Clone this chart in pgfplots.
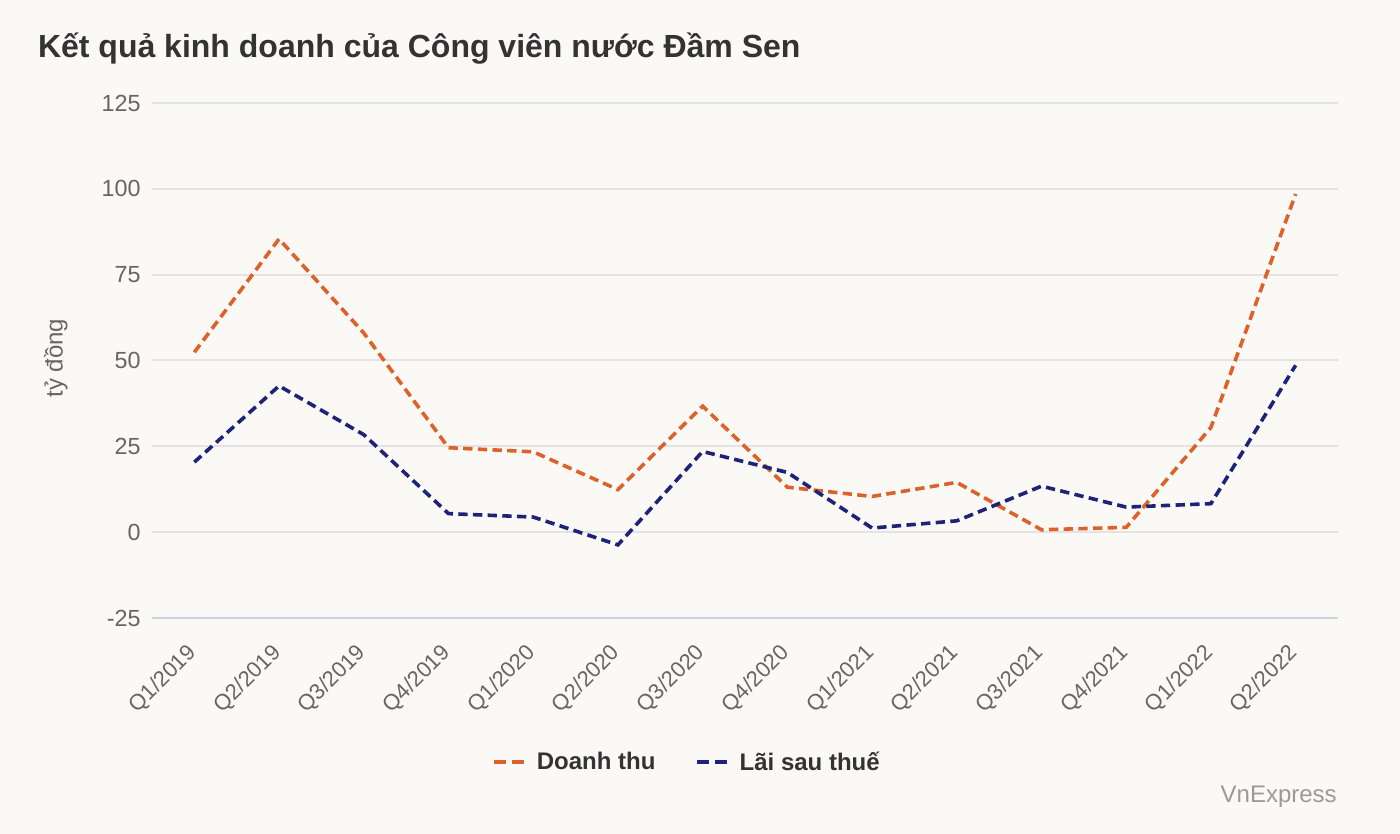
\documentclass[border=0pt]{standalone}
\usepackage{fontspec}
\setmainfont{Liberation Sans}
\usepackage{pgfplots}
\pgfplotsset{compat=1.18}
\definecolor{bg}{HTML}{FAF9F6}
\definecolor{dt}{HTML}{DE6129}
\definecolor{ls}{HTML}{1D2378}
\definecolor{gridc}{HTML}{E4E3E3}
\definecolor{basec}{HTML}{C9D4E9}
\definecolor{tickc}{HTML}{666666}
\definecolor{titlec}{HTML}{333333}
\definecolor{credc}{HTML}{9A9A9A}

\begin{document}
\begin{tikzpicture}
% 1 px of the reference = 0.75pt
\fill[bg] (-114pt,-162pt) rectangle (936pt,463.5pt);
\begin{axis}[
    at={(0,0)}, anchor=south west,
    scale only axis,
    width=889.5pt, height=386.25pt,
    xmin=-0.5, xmax=13.5,
    ymin=-25, ymax=125,
    axis line style={draw=none},
    major tick length=0pt,
    ytick={0,25,50,75,100,125},
    extra y ticks={-25},
    extra y tick labels={-25},
    extra y tick style={major grid style={draw=basec, line width=1.5pt}},
    ymajorgrids,
    major grid style={draw=gridc, line width=1.5pt},
    /pgf/number format/assume math mode=true,
    yticklabel style={font=\fontsize{17.5}{20}\selectfont, text=tickc, anchor=east, xshift=-5pt},
    xtick={0,...,13},
    xticklabels={Q1/2019,Q2/2019,Q3/2019,Q4/2019,Q1/2020,Q2/2020,Q3/2020,Q4/2020,Q1/2021,Q2/2021,Q3/2021,Q4/2021,Q1/2022,Q2/2022},
    xticklabel style={font=\fontsize{16.5}{19}\selectfont, text=tickc, rotate=45, anchor=east, yshift=-16pt, xshift=-14pt},
    legend columns=2,
    legend style={draw=none, fill=none, at={(0.4515,-0.2796)}, anchor=center,
        font=\bfseries\fontsize{18}{21}\selectfont, text=titlec,
        /tikz/every odd column/.append style={column sep=6pt},
        /tikz/every even column/.append style={column sep=28pt}},
    legend image code/.code={\draw[#1, dash pattern=on 9pt off 4pt] (0pt,0pt) -- (22.5pt,0pt);},
    every axis plot/.append style={line width=2.7pt, dash pattern=on 7pt off 4pt},
]
\addplot[dt] coordinates {
    (0,52.4) (1,85.4) (2,58.0) (3,24.6) (4,23.4) (5,12.4) (6,36.7)
    (7,13.1) (8,10.4) (9,14.5) (10,0.7) (11,1.4) (12,30.5) (13,98.5)
};
\addlegendentry{Doanh thu}
\addplot[ls] coordinates {
    (0,20.4) (1,42.6) (2,28.4) (3,5.4) (4,4.4) (5,-3.7) (6,23.5)
    (7,17.4) (8,1.2) (9,3.3) (10,13.4) (11,7.3) (12,8.3) (13,48.6)
};
\addlegendentry{Lãi sau thuế}
\end{axis}
\node[anchor=west, font=\bfseries\fontsize{24}{28}\selectfont, text=titlec] at (-89pt,427pt) {Kết quả kinh doanh của Công viên nước Đầm Sen};
\node[rotate=90, font=\fontsize{18}{21}\selectfont, text=tickc] at (-72pt,195pt) {tỷ đồng};
\node[anchor=east, inner sep=0pt, font=\fontsize{18}{21}\selectfont, text=credc] at (888.75pt,-134.25pt) {VnExpress};
\end{tikzpicture}
\end{document}
